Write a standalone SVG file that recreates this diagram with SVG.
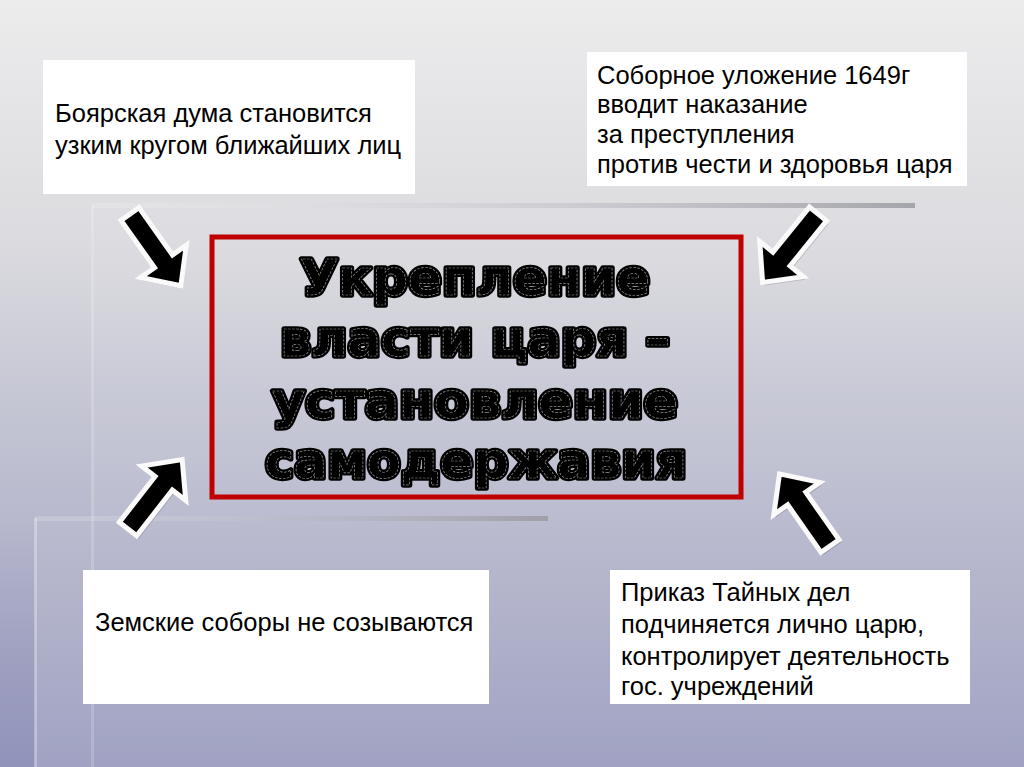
<svg xmlns="http://www.w3.org/2000/svg" width="1024" height="767" viewBox="0 0 1024 767">
<defs>
<linearGradient id="bg" x1="0" y1="0" x2="0" y2="1">
<stop offset="0" stop-color="#ececed"/>
<stop offset="0.3" stop-color="#dcdce0"/>
<stop offset="0.6" stop-color="#bebfd0"/>
<stop offset="1" stop-color="#9c9ec0"/>
</linearGradient>
<linearGradient id="leftdark" x1="0" y1="0" x2="0" y2="1">
<stop offset="0" stop-color="#7f81b0" stop-opacity="0"/>
<stop offset="1" stop-color="#7f81b0" stop-opacity="0.4"/>
</linearGradient>
<linearGradient id="hl" x1="0" y1="0" x2="1" y2="0">
<stop offset="0" stop-color="#ffffff" stop-opacity="0.15"/>
<stop offset="0.5" stop-color="#b8b8c0" stop-opacity="0.35"/>
<stop offset="1" stop-color="#9a9aa2" stop-opacity="0.85"/>
</linearGradient>
<path id="arr" d="M0,-11 H58 V-28 L88,0 L58,28 V11 H0 Z"/>
</defs>
<style>
.box{fill:#ffffff}
.t{font-family:"Liberation Sans",Arial,sans-serif;font-size:25.5px;fill:#000}
.big{font-family:"DejaVu Sans",sans-serif;font-weight:bold;font-size:50px;text-anchor:middle}
.bigo{fill:#000;stroke:#000;stroke-width:5.5;stroke-linejoin:round}
.bigi{fill:#000;stroke:#cfcfcf;stroke-width:0.7;stroke-dasharray:2.5 1.5;stroke-opacity:0.7}
.a{fill:#000;stroke:#fafafa;stroke-width:5;stroke-linejoin:miter}
.ash{fill:#000;opacity:0.15}
</style>
<!-- background -->
<rect x="0" y="0" width="1024" height="767" fill="url(#bg)"/>
<rect x="0" y="518" width="35" height="249" fill="url(#leftdark)"/>
<rect x="92" y="205" width="932" height="562" fill="#ffffff" opacity="0.05"/>
<rect x="35" y="518" width="57" height="249" fill="#ffffff" opacity="0.05"/>
<!-- frame lines -->
<rect x="92" y="203" width="823" height="5" fill="url(#hl)"/>
<rect x="91" y="205" width="3" height="562" fill="#ffffff" opacity="0.18"/>
<rect x="35" y="516" width="513" height="5" fill="url(#hl)"/>
<rect x="34" y="518" width="3" height="249" fill="#ffffff" opacity="0.3"/>

<!-- connectors -->
<g id="connectors">
<g transform="translate(132,217) rotate(54.7)"><use href="#arr" class="ash"/></g>
<g transform="translate(130,214) rotate(54.7)"><use href="#arr" class="a"/></g>
<g transform="translate(820,217) rotate(129)"><use href="#arr" class="ash"/></g>
<g transform="translate(818,214) rotate(129)"><use href="#arr" class="a"/></g>
<g transform="translate(130,532) rotate(-52)"><use href="#arr" class="ash"/></g>
<g transform="translate(128,529) rotate(-52)"><use href="#arr" class="a"/></g>
<g transform="translate(832,549) rotate(-125)"><use href="#arr" class="ash"/></g>
<g transform="translate(830,546) rotate(-125)"><use href="#arr" class="a"/></g>
</g>

<!-- central node -->
<g id="center">
<rect x="212" y="237" width="529" height="260" fill="none" stroke="#c00000" stroke-width="5"/>
<g class="big">
<text x="475" y="295" class="bigo" textLength="350" lengthAdjust="spacingAndGlyphs">Укрепление</text>
<text x="475" y="356" class="bigo" textLength="390" lengthAdjust="spacingAndGlyphs">власти царя –</text>
<text x="475" y="418" class="bigo" textLength="406" lengthAdjust="spacingAndGlyphs">установление</text>
<text x="476" y="478" class="bigo" textLength="422" lengthAdjust="spacingAndGlyphs">самодержавия</text>
<text x="475" y="295" class="bigi" textLength="350" lengthAdjust="spacingAndGlyphs">Укрепление</text>
<text x="475" y="356" class="bigi" textLength="390" lengthAdjust="spacingAndGlyphs">власти царя –</text>
<text x="475" y="418" class="bigi" textLength="406" lengthAdjust="spacingAndGlyphs">установление</text>
<text x="476" y="478" class="bigi" textLength="422" lengthAdjust="spacingAndGlyphs">самодержавия</text>
</g>
</g>

<g id="node-duma">
<rect class="box" x="43" y="60" width="372" height="134"/>
<text class="t" x="55" y="122">Боярская дума становится</text>
<text class="t" x="55" y="154">узким кругом ближайших лиц</text>
</g>

<g id="node-ulozhenie">
<rect class="box" x="587" y="52" width="380" height="134"/>
<text class="t" x="597" y="84">Соборное уложение 1649г</text>
<text class="t" x="597" y="113">вводит наказание</text>
<text class="t" x="597" y="143">за преступления</text>
<text class="t" x="597" y="173">против чести и здоровья царя</text>
</g>

<g id="node-sobory">
<rect class="box" x="83" y="570" width="406" height="134"/>
<text class="t" x="95" y="631">Земские соборы не созываются</text>
</g>

<g id="node-prikaz">
<rect class="box" x="610" y="570" width="360" height="134"/>
<text class="t" x="621" y="601">Приказ Тайных дел</text>
<text class="t" x="621" y="633">подчиняется лично царю,</text>
<text class="t" x="621" y="665">контролирует деятельность</text>
<text class="t" x="621" y="695">гос. учреждений</text>
</g>
</svg>
